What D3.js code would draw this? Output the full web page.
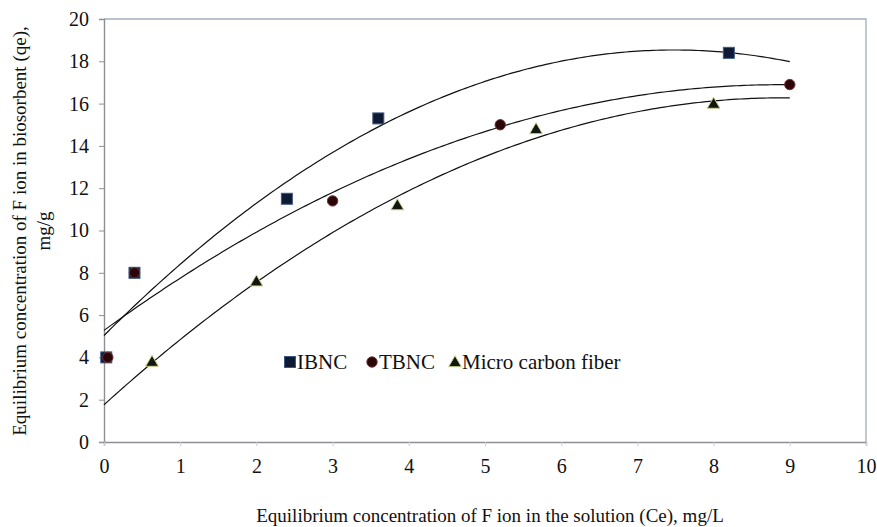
<!DOCTYPE html>
<html>
<head>
<meta charset="utf-8">
<script src="https://cdn.jsdelivr.net/npm/d3@7/dist/d3.min.js"></script>
<style>
  html, body { margin: 0; padding: 0; background: #fff; }
</style>
</head>
<body>
<svg id="chart" width="877" height="527"></svg>
<script>
// Equilibrium data: Ce (mg/L) vs qe (mg/g)
const ibncCe = [0.03, 0.4, 2.4, 3.6, 8.2];
const ibncQe = [4.0, 8.0, 11.5, 15.3, 18.4];
const tbncCe = [0.05, 0.4, 3.0, 5.2, 9.0];
const tbncQe = [4.0, 8.0, 11.4, 15.0, 16.9];
const microCe = [0.63, 2.0, 3.85, 5.67, 8.0];
const microQe = [3.8, 7.6, 11.2, 14.8, 16.0];

const seriesNames = ["IBNC", "TBNC", "Micro carbon fiber"];
const xTicks = [0, 1, 2, 3, 4, 5, 6, 7, 8, 9, 10];
const yTicks = [0, 2, 4, 6, 8, 10, 12, 14, 16, 18, 20];

const xTitle = "Equilibrium concentration of F ion in the solution (Ce), mg/L";
const yTitle1 = "Equilibrium concentration of F ion in biosorbent (qe),";
const yTitle2 = "mg/g";

const FONT = "'Liberation Serif', Tinos, 'Times New Roman', 'DejaVu Serif', serif";

const svg = d3.select("#chart");
const plotLeft = 104, plotRight = 866, plotTop = 19, plotBottom = 442;

const x = d3.scaleLinear().domain([0, 10]).range([plotLeft, plotRight]);
const y = d3.scaleLinear().domain([0, 20]).range([plotBottom, plotTop]);

// Plot frame (top and right edges)
svg.append("path")
  .attr("d", `M${plotLeft},${plotTop}H${plotRight}V${plotBottom}`)
  .attr("fill", "none").attr("stroke", "#a3adbd").attr("stroke-width", 1.3);

// Axes
const yAxis = svg.append("g").attr("transform", `translate(${plotLeft},0)`)
  .call(d3.axisLeft(y).tickValues(yTicks).tickSize(5).tickPadding(10).tickFormat(d3.format("d")));
const xAxis = svg.append("g").attr("transform", `translate(0,${plotBottom})`)
  .call(d3.axisBottom(x).tickValues(xTicks).tickSize(4).tickPadding(13).tickFormat(d3.format("d")));
[yAxis, xAxis].forEach(g => {
  g.attr("font-family", null).attr("font-size", null);
  g.select(".domain").attr("stroke", "#8d8f94").attr("stroke-width", 1.4);
  g.selectAll(".tick line").attr("stroke", "#8d8f94").attr("stroke-width", 1);
  g.selectAll(".tick text").style("font-family", FONT).style("font-size", "20px").attr("fill", "#111");
});
xAxis.selectAll(".tick line").attr("stroke", "#c9cdd3");

// Quadratic least-squares trend line
function quadFit(xs, ys) {
  const s = [0, 0, 0, 0, 0], t = [0, 0, 0];
  xs.forEach((xi, i) => {
    for (let k = 0; k < 5; k++) s[k] += Math.pow(xi, k);
    for (let k = 0; k < 3; k++) t[k] += Math.pow(xi, k) * ys[i];
  });
  const A = [[s[0], s[1], s[2], t[0]], [s[1], s[2], s[3], t[1]], [s[2], s[3], s[4], t[2]]];
  for (let i = 0; i < 3; i++) {
    for (let j = i + 1; j < 3; j++) {
      const f = A[j][i] / A[i][i];
      for (let k = i; k < 4; k++) A[j][k] -= f * A[i][k];
    }
  }
  const c = [0, 0, 0];
  for (let i = 2; i >= 0; i--) {
    let v = A[i][3];
    for (let k = i + 1; k < 3; k++) v -= A[i][k] * c[k];
    c[i] = v / A[i][i];
  }
  return c;
}

const series = [
  { name: seriesNames[0], xs: ibncCe, ys: ibncQe, shape: "square" },
  { name: seriesNames[1], xs: tbncCe, ys: tbncQe, shape: "circle" },
  { name: seriesNames[2], xs: microCe, ys: microQe, shape: "triangle" }
];

const line = d3.line().x(d => x(d[0])).y(d => y(d[1]));
series.forEach(s => {
  const c = quadFit(s.xs, s.ys);
  const pts = d3.range(0, 9.001, 0.05).map(v => [v, c[0] + c[1] * v + c[2] * v * v]);
  svg.append("path").datum(pts).attr("d", line)
    .attr("fill", "none").attr("stroke", "#111").attr("stroke-width", 1.2);
});

// Markers
function drawMarker(g, shape, cx, cy) {
  if (shape === "square") {
    g.append("rect").attr("x", cx - 5.5).attr("y", cy - 5.5).attr("width", 11).attr("height", 11)
      .attr("fill", "#0e1a33").attr("stroke", "#3d5a86").attr("stroke-width", 1);
  } else if (shape === "circle") {
    g.append("circle").attr("cx", cx).attr("cy", cy).attr("r", 5.2)
      .attr("fill", "#2a0608").attr("stroke", "#7a3034").attr("stroke-width", 1);
  } else {
    g.append("path").attr("d", d3.symbol(d3.symbolTriangle, 70)())
      .attr("transform", `translate(${cx},${cy + 1})`)
      .attr("fill", "#101810").attr("stroke", "#c8cf8c").attr("stroke-width", 1);
  }
}
series.forEach(s => {
  const g = svg.append("g");
  s.xs.forEach((xv, i) => drawMarker(g, s.shape, x(xv), y(s.ys[i])));
});

// Legend
const legendX = [290, 372, 455];
series.forEach((s, i) => {
  const g = svg.append("g");
  drawMarker(g, s.shape, legendX[i], 362);
  g.append("text").attr("x", legendX[i] + 7).attr("y", 369)
    .style("font-family", FONT).style("font-size", "21px").attr("fill", "#111").text(s.name);
});

// Axis titles
svg.append("text").attr("x", 490).attr("y", 522)
  .attr("text-anchor", "middle").style("font-family", FONT).style("font-size", "19px")
  .attr("fill", "#111").text(xTitle);
svg.append("text").attr("transform", "translate(26,231) rotate(-90)")
  .attr("text-anchor", "middle").style("font-family", FONT).style("font-size", "19px")
  .attr("fill", "#111").text(yTitle1);
svg.append("text").attr("transform", "translate(50,231) rotate(-90)")
  .attr("text-anchor", "middle").style("font-family", FONT).style("font-size", "19px")
  .attr("fill", "#111").text(yTitle2);
</script>
</body>
</html>
